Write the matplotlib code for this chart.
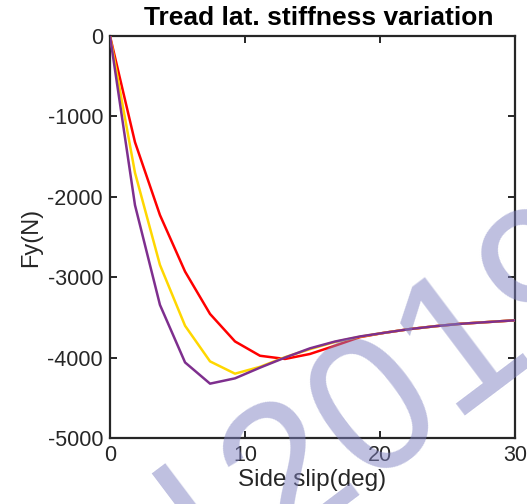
import matplotlib
matplotlib.use("Agg")
import matplotlib.pyplot as plt

plt.rcParams['font.family'] = ['Liberation Sans', 'DejaVu Sans']

# Side slip samples (deg)
slip = [0, 1.85, 3.70, 5.56, 7.41, 9.26, 11.11, 12.96, 14.81, 16.67,
        18.52, 20.37, 22.22, 24.07, 25.93, 27.78, 29.63, 31.48]

# Fy (N) for three tread lateral stiffness values
fy_low = [0, -1320, -2227, -2930, -3457, -3799, -3977, -4017, -3955, -3852,
          -3745, -3690, -3645, -3610, -3580, -3560, -3540, -3525]
fy_mid = [0, -1700, -2847, -3604, -4047, -4200, -4115, -3995, -3895, -3805,
          -3740, -3690, -3645, -3610, -3580, -3560, -3540, -3525]
fy_high = [0, -2103, -3344, -4060, -4324, -4258, -4125, -4000, -3885, -3800,
           -3737, -3690, -3645, -3610, -3580, -3560, -3540, -3525]

colors = ['#FF0000', '#FFD700', '#7E2F8E']

xticks = [0, 10, 20, 30]
yticks = [0, -1000, -2000, -3000, -4000, -5000]

fig = plt.figure(figsize=(5.27, 5.04), dpi=100)
ax = fig.add_axes([110/527, 1 - 438/504, 405/527, 402/504])

for y, c in zip([fy_low, fy_mid, fy_high], colors):
    ax.plot(slip, y, color=c, lw=1.8, zorder=3)

ax.set_xlim(0, 30)
ax.set_ylim(-5000, 0)
ax.set_xticks(xticks)
ax.set_yticks(yticks)
ax.set_yticklabels([str(v) for v in yticks])

axcol = '#262626'
for s in ax.spines.values():
    s.set_color(axcol)
    s.set_linewidth(1.6)
ax.tick_params(direction='in', length=5, width=1.4, color=axcol,
               labelsize=15.5, labelcolor=axcol, top=True, right=True, pad=5)

ax.set_xlabel('Side slip(deg)', fontsize=17.5, color=axcol, labelpad=2)
ax.set_ylabel('Fy(N)', fontsize=17, color=axcol, labelpad=4)
ax.set_title('Tread lat. stiffness variation', fontsize=19, fontweight='bold',
             color='black', pad=8, x=0.516)

# watermark
wm_color = (127/255, 129/255, 193/255)
fig.text(279/527, 1 - 548/504, '2019', fontsize=140, rotation=37,
         rotation_mode='anchor', ha='left', va='baseline',
         color=wm_color, alpha=0.5, zorder=10)
fig.text(224/527, 1 - 586/504, 'l', fontsize=140, rotation=37,
         rotation_mode='anchor', ha='left', va='baseline',
         color=wm_color, alpha=0.5, zorder=10)

fig.savefig('out.png', dpi=100)
